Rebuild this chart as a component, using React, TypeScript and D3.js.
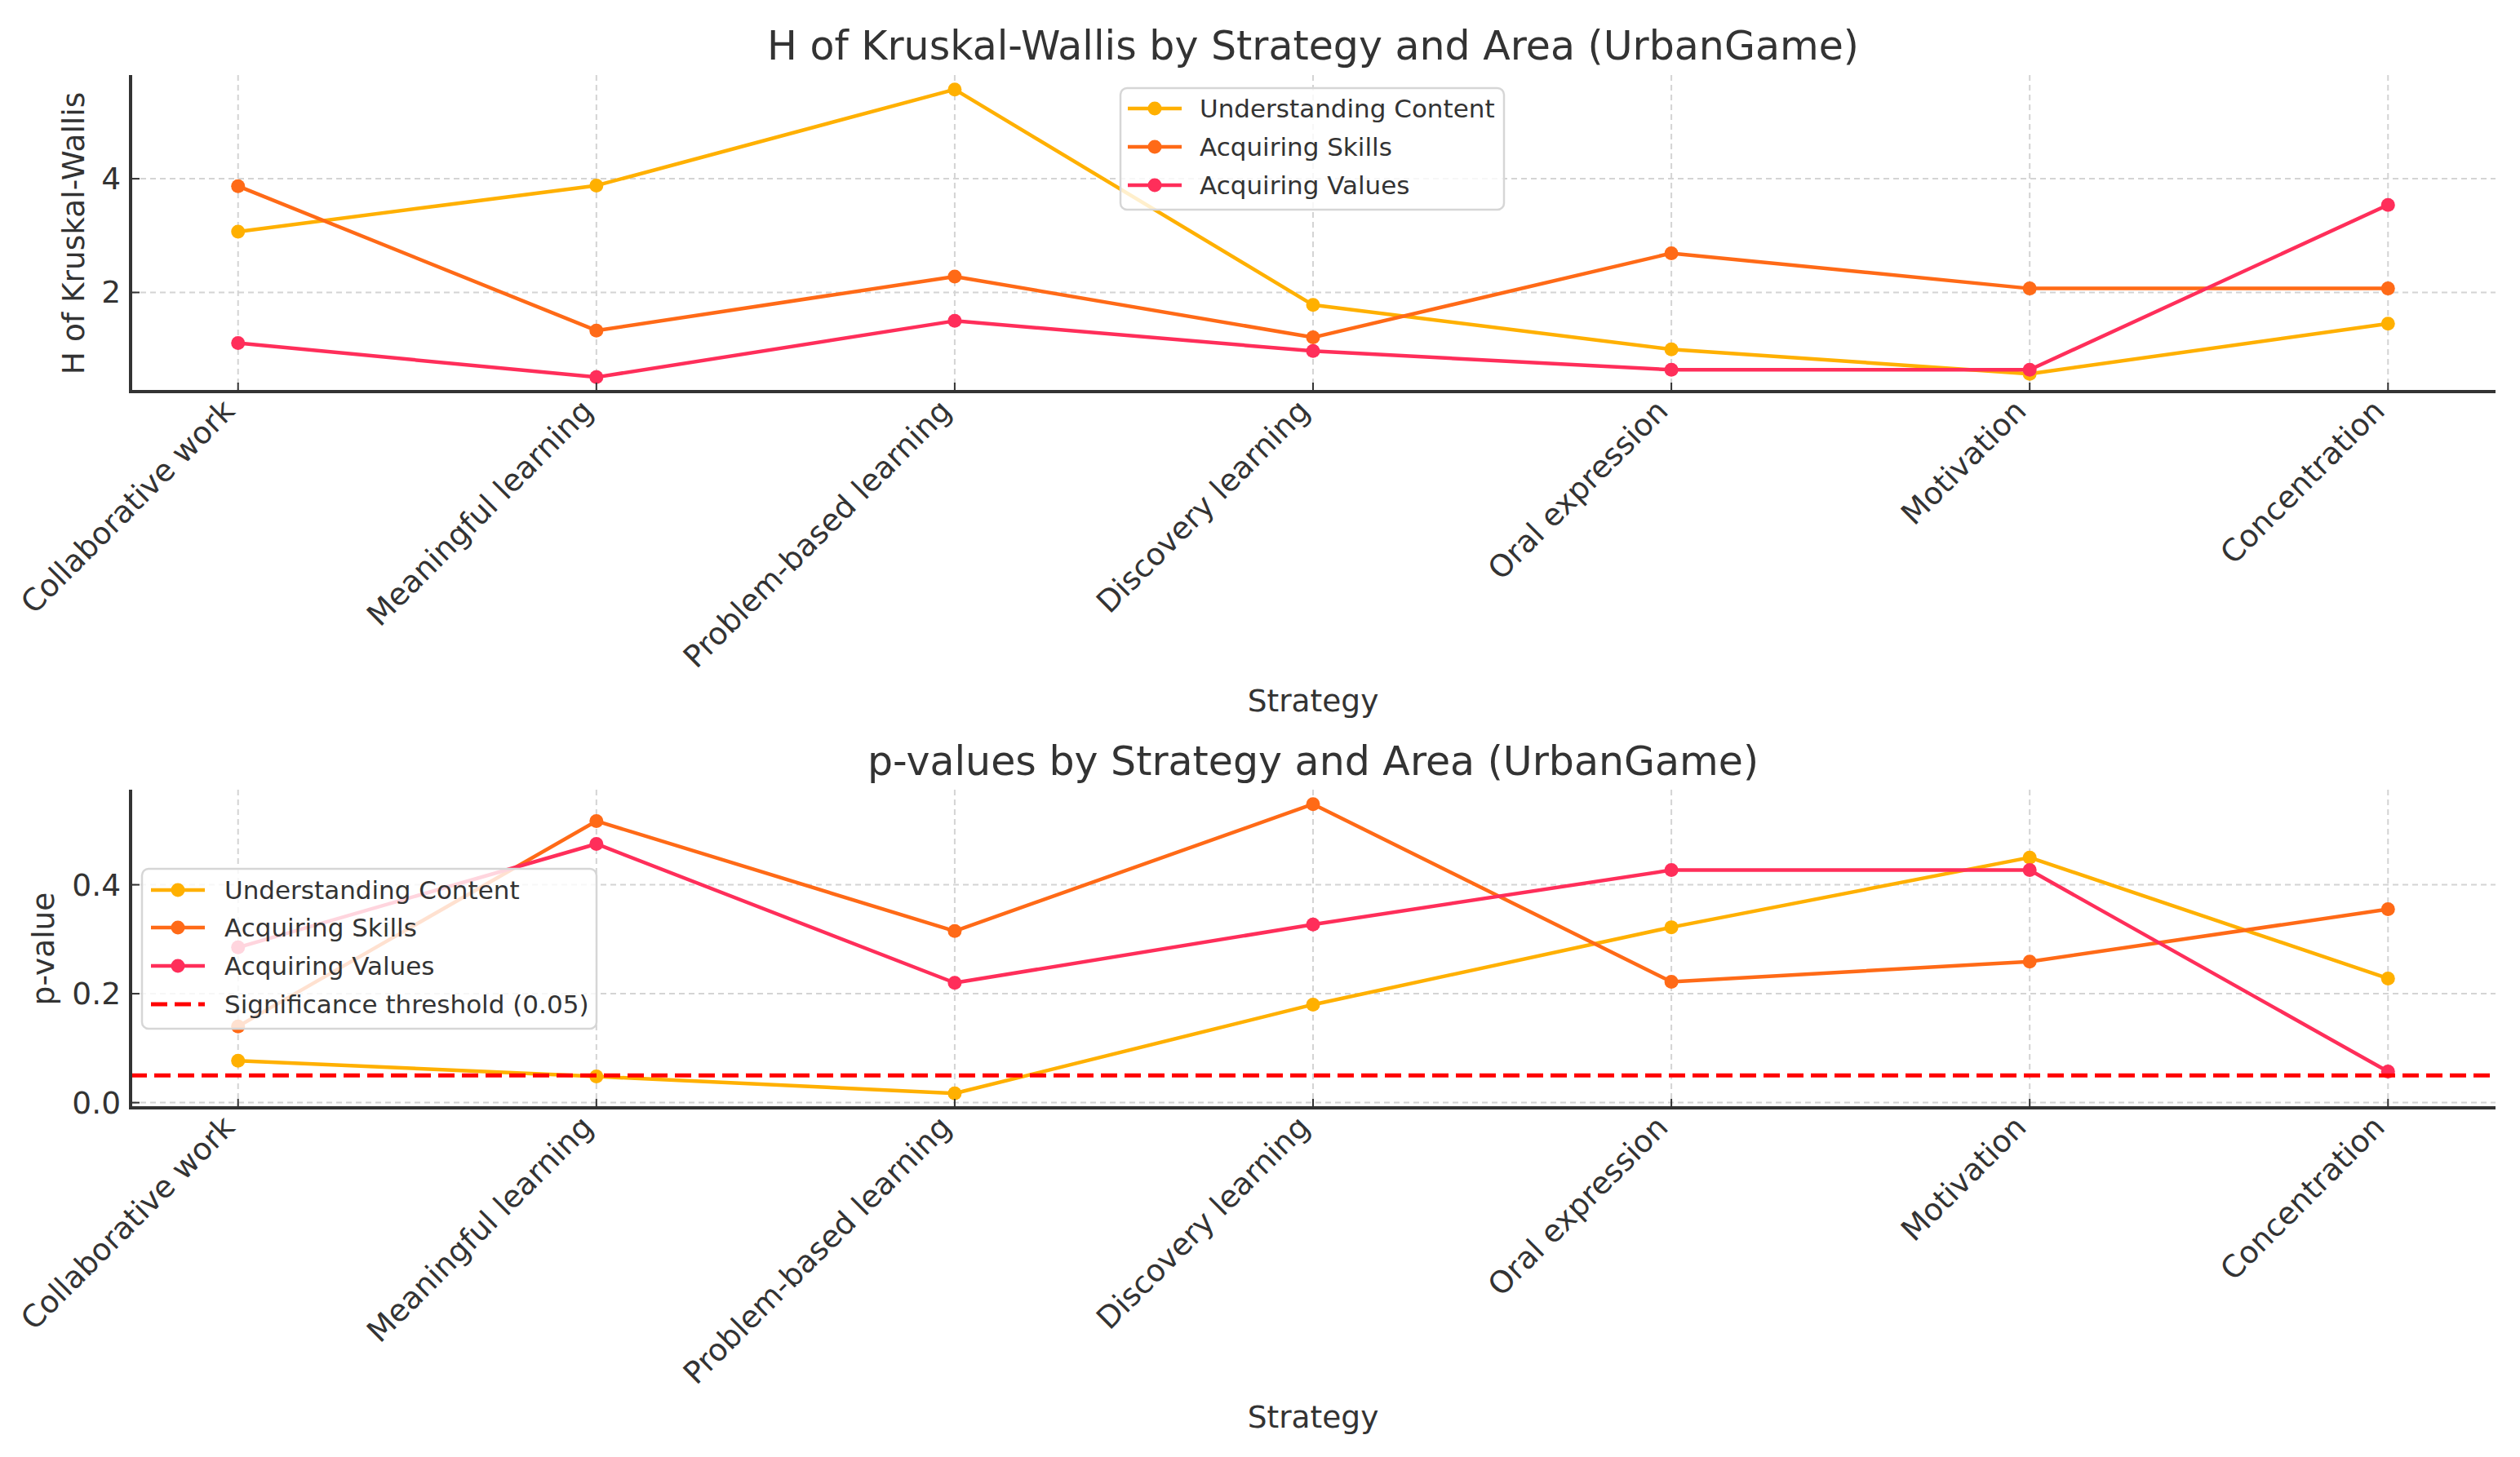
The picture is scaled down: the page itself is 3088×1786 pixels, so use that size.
import React, { useEffect, useRef } from 'react';
import * as d3 from 'd3';

// Categories and series
const strategies = [
  'Collaborative work',
  'Meaningful learning',
  'Problem-based learning',
  'Discovery learning',
  'Oral expression',
  'Motivation',
  'Concentration',
];

const seriesNames = ['Understanding Content', 'Acquiring Skills', 'Acquiring Values'];
const seriesColors = ['#ffb000', '#ff6a17', '#ff2e5a'];

// H of Kruskal-Wallis
const hUnderstanding = [3.07, 3.88, 5.57, 1.78, 1.0, 0.57, 1.45];
const hSkills = [3.87, 1.33, 2.28, 1.21, 2.69, 2.07, 2.07];
const hValues = [1.11, 0.51, 1.5, 0.97, 0.64, 0.64, 3.54];

// p-values
const pUnderstanding = [0.077, 0.048, 0.017, 0.18, 0.322, 0.45, 0.228];
const pSkills = [0.14, 0.517, 0.315, 0.548, 0.222, 0.259, 0.355];
const pValues = [0.285, 0.475, 0.22, 0.327, 0.427, 0.427, 0.057];

const hTicks = [2, 4];
const pTicks = [0, 0.2, 0.4];
const threshold = 0.05;
const thresholdLabel = 'Significance threshold (0.05)';

interface PanelConfig {
  title: string;
  yLabel: string;
  series: number[][];
  ticks: number[];
  tickFormat: (v: number) => string;
  top: number;
  bottom: number;
  titleY: number;
  yLabelX: number;
  threshold?: number;
  legend: { x: number; y: number; w: number; h: number; lineX: number; textX: number; rowY: number[] };
}

const App: React.FC = () => {
  const svgRef = useRef<SVGSVGElement | null>(null);

  useEffect(() => {
    if (!svgRef.current) return;
    document.body.style.margin = '0';

    const width = 3088;
    const height = 1786;
    const left = 160;
    const right = 3058;
    const textColor = '#333';
    const font = '"DejaVu Sans", Verdana, sans-serif';

    const svg = d3.select(svgRef.current)
      .attr('width', width)
      .attr('height', height)
      .attr('viewBox', `0 0 ${width} ${height}`)
      .style('font-family', font);
    svg.selectAll('*').remove();

    svg.append('rect').attr('width', width).attr('height', height).attr('fill', '#fff');

    const x = d3.scalePoint<string>()
      .domain(strategies)
      .range([left, right])
      .padding(0.3);

    const panels: PanelConfig[] = [
      {
        title: 'H of Kruskal-Wallis by Strategy and Area (UrbanGame)',
        yLabel: 'H of Kruskal-Wallis',
        series: [hUnderstanding, hSkills, hValues],
        ticks: hTicks,
        tickFormat: (v) => d3.format('d')(v),
        top: 92,
        bottom: 480,
        titleY: 73,
        yLabelX: 103,
        legend: { x: 1373, y: 108, w: 470, h: 149, lineX: 1382, textX: 1470, rowY: [133, 180, 227] },
      },
      {
        title: 'p-values by Strategy and Area (UrbanGame)',
        yLabel: 'p-value',
        series: [pUnderstanding, pSkills, pValues],
        ticks: pTicks,
        tickFormat: (v) => d3.format('.1f')(v),
        top: 968,
        bottom: 1358,
        titleY: 950,
        yLabelX: 66,
        threshold,
        legend: { x: 174, y: 1065, w: 557, h: 196, lineX: 185, textX: 275, rowY: [1091, 1137, 1184, 1231] },
      },
    ];

    panels.forEach((p) => {
      const all = p.series.flat();
      const [mn, mx] = d3.extent(all) as [number, number];
      const pad = (mx - mn) * 0.05;
      const y = d3.scaleLinear().domain([mn - pad, mx + pad]).range([p.bottom, p.top]);
      const g = svg.append('g');

      // grid
      g.selectAll('.vgrid')
        .data(strategies)
        .enter()
        .append('line')
        .attr('x1', (d) => x(d)!)
        .attr('x2', (d) => x(d)!)
        .attr('y1', p.top)
        .attr('y2', p.bottom)
        .attr('stroke', '#d4d4d4')
        .attr('stroke-width', 2)
        .attr('stroke-dasharray', '7,5');

      g.selectAll('.hgrid')
        .data(p.ticks)
        .enter()
        .append('line')
        .attr('x1', left)
        .attr('x2', right)
        .attr('y1', (d) => y(d))
        .attr('y2', (d) => y(d))
        .attr('stroke', '#d4d4d4')
        .attr('stroke-width', 2)
        .attr('stroke-dasharray', '7,5');

      // series
      const line = d3.line<number>()
        .x((_, i) => x(strategies[i])!)
        .y((d) => y(d));

      p.series.forEach((vals, si) => {
        g.append('path')
          .datum(vals)
          .attr('fill', 'none')
          .attr('stroke', seriesColors[si])
          .attr('stroke-width', 4.5)
          .attr('stroke-linejoin', 'round')
          .attr('d', line);
        g.selectAll(`.dot-${si}`)
          .data(vals)
          .enter()
          .append('circle')
          .attr('cx', (_, i) => x(strategies[i])!)
          .attr('cy', (d) => y(d))
          .attr('r', 8.5)
          .attr('fill', seriesColors[si]);
      });

      if (p.threshold !== undefined) {
        g.append('line')
          .attr('x1', left)
          .attr('x2', right)
          .attr('y1', y(p.threshold))
          .attr('y2', y(p.threshold))
          .attr('stroke', '#ff0000')
          .attr('stroke-width', 5)
          .attr('stroke-dasharray', '20,9');
      }

      // spines
      g.append('line')
        .attr('x1', left).attr('x2', left)
        .attr('y1', p.top).attr('y2', p.bottom + 2)
        .attr('stroke', textColor).attr('stroke-width', 4);
      g.append('line')
        .attr('x1', left - 2).attr('x2', right)
        .attr('y1', p.bottom).attr('y2', p.bottom)
        .attr('stroke', textColor).attr('stroke-width', 4);

      // ticks (inward)
      g.selectAll('.xtick')
        .data(strategies)
        .enter()
        .append('line')
        .attr('x1', (d) => x(d)!)
        .attr('x2', (d) => x(d)!)
        .attr('y1', p.bottom)
        .attr('y2', p.bottom - 11)
        .attr('stroke', textColor)
        .attr('stroke-width', 2);
      g.selectAll('.ytick')
        .data(p.ticks)
        .enter()
        .append('line')
        .attr('x1', left)
        .attr('x2', left + 11)
        .attr('y1', (d) => y(d))
        .attr('y2', (d) => y(d))
        .attr('stroke', textColor)
        .attr('stroke-width', 2);

      // tick labels
      g.selectAll('.ylab')
        .data(p.ticks)
        .enter()
        .append('text')
        .attr('x', left - 12)
        .attr('y', (d) => y(d) + 13)
        .attr('text-anchor', 'end')
        .attr('font-size', 37.5)
        .attr('fill', textColor)
        .text((d) => p.tickFormat(d));

      g.selectAll('.xlab')
        .data(strategies)
        .enter()
        .append('text')
        .attr('transform', (d) => `translate(${x(d)! - 2},${p.bottom + 26}) rotate(-45)`)
        .attr('text-anchor', 'end')
        .attr('font-size', 37.5)
        .attr('fill', textColor)
        .text((d) => d);

      // axis labels and title
      g.append('text')
        .attr('transform', `translate(${p.yLabelX},${(p.top + p.bottom) / 2}) rotate(-90)`)
        .attr('text-anchor', 'middle')
        .attr('font-size', 37.5)
        .attr('fill', textColor)
        .text(p.yLabel);

      g.append('text')
        .attr('x', (left + right) / 2)
        .attr('y', p.bottom + 392)
        .attr('text-anchor', 'middle')
        .attr('font-size', 37.5)
        .attr('fill', textColor)
        .text('Strategy');

      g.append('text')
        .attr('x', (left + right) / 2)
        .attr('y', p.titleY)
        .attr('text-anchor', 'middle')
        .attr('font-size', 49)
        .attr('fill', textColor)
        .text(p.title);

      // legend
      const L = p.legend;
      const lg = g.append('g');
      lg.append('rect')
        .attr('x', L.x)
        .attr('y', L.y)
        .attr('width', L.w)
        .attr('height', L.h)
        .attr('rx', 8)
        .attr('fill', '#fff')
        .attr('fill-opacity', 0.8)
        .attr('stroke', '#d6d6d6')
        .attr('stroke-width', 2.5);

      const labels = p.threshold !== undefined ? [...seriesNames, thresholdLabel] : seriesNames;
      labels.forEach((name, i) => {
        const ry = L.rowY[i];
        const isThreshold = i >= seriesNames.length;
        lg.append('line')
          .attr('x1', L.lineX)
          .attr('x2', L.lineX + 66)
          .attr('y1', ry)
          .attr('y2', ry)
          .attr('stroke', isThreshold ? '#ff0000' : seriesColors[i])
          .attr('stroke-width', isThreshold ? 5 : 4.5)
          .attr('stroke-dasharray', isThreshold ? '20,9' : null);
        if (!isThreshold) {
          lg.append('circle')
            .attr('cx', L.lineX + 33)
            .attr('cy', ry)
            .attr('r', 8.5)
            .attr('fill', seriesColors[i]);
        }
        lg.append('text')
          .attr('x', L.textX)
          .attr('y', ry + 11)
          .attr('font-size', 31)
          .attr('fill', textColor)
          .text(name);
      });
    });
  }, []);

  return (
    <div style={{ position: 'absolute', left: 0, top: 0 }}>
      <svg ref={svgRef}></svg>
    </div>
  );
};

export default App;
